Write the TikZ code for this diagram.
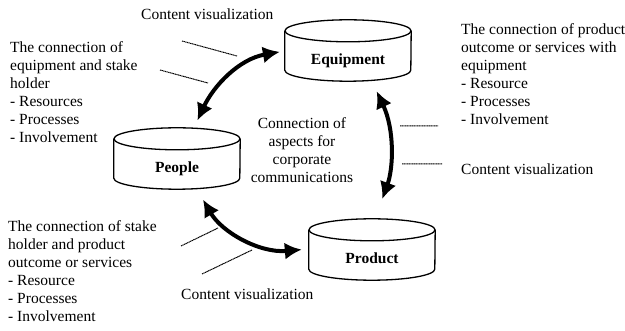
\documentclass[tikz,border=0pt]{standalone}
\usepackage{fontspec}
\setmainfont{Liberation Serif}
\usetikzlibrary{arrows.meta, positioning}

\begin{document}
\begin{tikzpicture}[x=10pt, y=10pt, font=\fontsize{15.5}{18}\selectfont]
    % Setup the styles for the drums, the notes and the arrows
        \tikzset{drum style/.style={rectangle,
                                    inner sep=0pt,
                                    minimum width=126pt,
                                    minimum height=50pt,
                                    text height=17pt,
                                    text depth=0pt,
                                    font=\fontsize{15.5}{18}\selectfont\bfseries},
                 drum line/.style={line width=1.3pt},
                 note style/.style={align=left, inner sep=0pt, anchor=base west},
                 link style/.style={line width=4pt,
                                    {Latex[length=17pt,width=17pt]}-{Latex[length=17pt,width=17pt]}},
                 leader style/.style={dash pattern=on 1.2pt off 0.5pt, line width=1pt}}
        \useasboundingbox (0,0) rectangle (62.5,-33.1);
        % Draw the drums (the node is the body below the lid)
        \node[drum style] at (34.8, -5.6)  (equip)   {Equipment};
        \node[drum style] at (17.7, -16.4) (people)  {People};
        \node[drum style] at (37.2, -25.5) (product) {Product};
        \foreach \n in {equip, people, product} {
            \draw[drum line] (\n.north) ellipse [x radius=63pt, y radius=11pt];
            \draw[drum line] (\n.north west) -- ([yshift=11pt]\n.south west)
                arc [start angle=180, end angle=360, x radius=63pt, y radius=11pt]
                -- (\n.north east);
        }
        % Draw the notes (anchored at the base of their last line)
        \node[note style] at (1.0, -14.3) (noteA) {The connection of\\equipment and stake\\holder\\- Resources\\- Processes\\- Involvement};
        \node[note style] at (46.1, -12.5) (noteB) {The connection of product\\outcome or services with\\equipment\\- Resource\\- Processes\\- Involvement};
        \node[note style] at (0.8, -32.2) (noteC) {The connection of stake\\holder and product\\outcome or services\\- Resource\\- Processes\\- Involvement};
        \node[note style, align=center, anchor=base] at (30.2, -18.3) (core) {Connection of\\aspects for\\corporate\\communications};
        \node[note style] at (14.1, -2.0)  (visA) {Content visualization};
        \node[note style] at (46.1, -17.5) (visB) {Content visualization};
        \node[note style] at (18.1, -30.0) (visC) {Content visualization};
        % Connect the drums with arrows
        \draw[link style, shorten <=8pt, shorten >=5pt]
            ([xshift=17pt, yshift=11pt]people.north) to[out=65, in=190] ([yshift=5pt]equip.west);
        \draw[link style, shorten <=11pt, shorten >=21pt]
            ([xshift=24pt]equip.south) to[out=-65, in=70] ([xshift=3pt, yshift=11pt]product.north);
        \draw[link style, shorten <=12pt, shorten >=7pt]
            ([xshift=20pt]people.south) to[out=-60, in=185] ([yshift=6pt]product.west);
        % Leaders from the notes to the arrows
        \coordinate (a1) at (18.2, -4.1);  \coordinate (a2) at (23.7, -5.6);
        \coordinate (b1) at (16.0, -7.0);  \coordinate (b2) at (20.8, -8.3);
        \coordinate (c1) at (40.0, -12.6); \coordinate (c2) at (43.8, -12.6);
        \coordinate (d1) at (40.2, -16.4); \coordinate (d2) at (44.2, -16.4);
        \coordinate (e1) at (18.1, -24.6); \coordinate (e2) at (21.8, -22.8);
        \coordinate (f1) at (20.2, -27.4); \coordinate (f2) at (25.2, -25.0);
        \draw[leader style] (a1) -- (a2) (b1) -- (b2) (c1) -- (c2)
                            (d1) -- (d2) (e1) -- (e2) (f1) -- (f2);
\end{tikzpicture}
\end{document}
